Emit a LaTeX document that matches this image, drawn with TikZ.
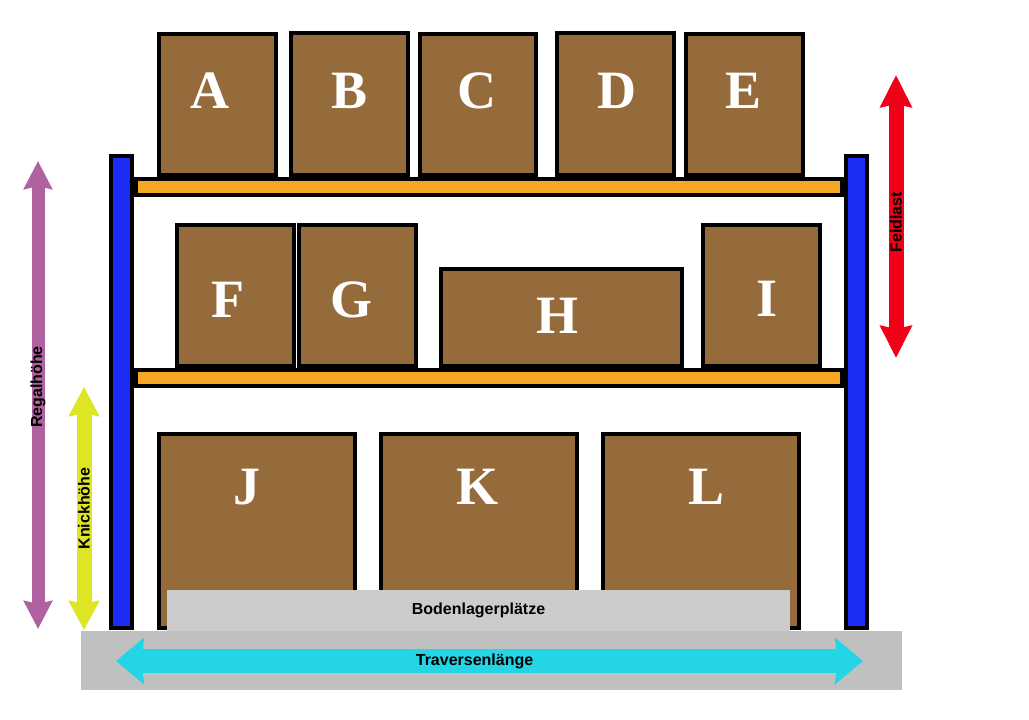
\documentclass[tikz,border=0pt]{standalone}
\usepackage{fontspec}
\setmainfont{Liberation Serif}
\setsansfont{Liberation Sans}
\definecolor{RackBlue}{HTML}{1B2DF3}
\definecolor{RackOrange}{HTML}{F5A623}
\definecolor{CrateBrown}{HTML}{966B3B}
\definecolor{FloorGray}{HTML}{C0C0C0}
\definecolor{SlotGray}{HTML}{CCCCCC}
\definecolor{LengthCyan}{HTML}{24D5E5}
\definecolor{HeightPurple}{HTML}{B062A0}
\definecolor{KnickYellow}{HTML}{DDE524}
\definecolor{LoadRed}{HTML}{F20018}
\usetikzlibrary{arrows.meta,positioning}
\tikzset{
  upright/.style={draw=black, fill=RackBlue, line width=4pt, inner sep=0pt},
  beam/.style={draw=black, fill=RackOrange, line width=4pt, inner sep=0pt},
  crate/.style={draw=black, fill=CrateBrown, line width=4pt, inner sep=0pt},
  letter/.style={text=white, anchor=base, inner sep=0pt, font=\bfseries\fontsize{54}{54}\selectfont},
  floor/.style={fill=#1, inner sep=0pt},
  dimarrow/.style n args={3}{line width=#1, arrows={Stealth[length=#2,width=#3,inset=3pt]-Stealth[length=#2,width=#3,inset=3pt]}},
  dimlabel/.style={text=black, inner sep=0pt, font=\sffamily\bfseries\fontsize{16}{16}\selectfont}
}
\begin{document}
\begin{tikzpicture}[x=1pt, y=-1pt]
    \useasboundingbox (0,0) rectangle (1029,720);
    % rack frame
    \node[upright, minimum width=21pt, minimum height=472pt] (postL) at (121.5,392) {};
    \node[upright, minimum width=21pt, minimum height=472pt] (postR) at (856.5,392) {};
    \node[beam, minimum width=706pt, minimum height=16pt] (beamTop) at (489,187) {};
    \node[beam, minimum width=706pt, minimum height=16pt] (beamMid) at (489,378) {};
    % top level
    \node[crate, minimum width=117pt, minimum height=141pt] (crateA) at (217.5,104.5) {};
    \node[crate, minimum width=117pt, minimum height=142pt] (crateB) at (349.5,104) {};
    \node[crate, minimum width=116pt, minimum height=141pt] (crateC) at (478,104.5) {};
    \node[crate, minimum width=117pt, minimum height=142pt] (crateD) at (615.5,104) {};
    \node[crate, minimum width=117pt, minimum height=141pt] (crateE) at (744.5,104.5) {};
    \node[letter] (letterA) at (210,108) {A};
    \node[letter] (letterB) at (350,108) {B};
    \node[letter] (letterC) at (477,108) {C};
    \node[letter] (letterD) at (617,108) {D};
    \node[letter] (letterE) at (744,108) {E};
    % middle level
    \node[crate, minimum width=117pt, minimum height=141pt] (crateF) at (235.5,295.5) {};
    \node[crate, minimum width=117pt, minimum height=141pt] (crateG) at (357.5,295.5) {};
    \node[crate, minimum width=241pt, minimum height=97pt] (crateH) at (561.5,317.5) {};
    \node[crate, minimum width=117pt, minimum height=141pt] (crateI) at (761.5,295.5) {};
    \node[letter] (letterF) at (228,317) {F};
    \node[letter] (letterG) at (351,317) {G};
    \node[letter] (letterH) at (557,333) {H};
    \node[letter] (letterI) at (767,316) {I};
    % floor level
    \node[crate, minimum width=196pt, minimum height=194pt] (crateJ) at (257,531) {};
    \node[crate, minimum width=196pt, minimum height=194pt] (crateK) at (479,531) {};
    \node[crate, minimum width=196pt, minimum height=194pt] (crateL) at (701,531) {};
    \node[letter] (letterJ) at (247,504) {J};
    \node[letter] (letterK) at (477,504) {K};
    \node[letter] (letterL) at (707,504) {L};
    \node[floor=FloorGray, minimum width=821pt, minimum height=59pt] (ground) at (491.5,660.5) {};
    \node[floor=SlotGray, minimum width=623pt, minimum height=41pt, dimlabel] (slots) at (478.5,610.5) {Bodenlagerplätze};
    % dimensions
    \coordinate (rackBottom) at (38,629);
    \coordinate (rackTop) at (38,161);
    \coordinate (knickBottom) at (84,630);
    \coordinate (knickTop) at (84,387);
    \coordinate (loadTop) at (896,75);
    \coordinate (loadBottom) at (896,358);
    \coordinate (beamLeft) at (116,661);
    \coordinate (beamRight) at (863,661);
    \draw[HeightPurple, dimarrow={13pt}{28pt}{28pt}] (rackBottom) -- node[dimlabel, pos=0.517, rotate=90] (rackLabel) {Regalhöhe} (rackTop);
    \draw[KnickYellow, dimarrow={15pt}{29pt}{30pt}] (knickBottom) -- node[dimlabel, midway, rotate=90] (knickLabel) {Knickhöhe} (knickTop);
    \draw[LoadRed, dimarrow={15pt}{32pt}{31pt}] (loadBottom) -- node[dimlabel, pos=0.48, rotate=90] (loadLabel) {Feldlast} (loadTop);
    \draw[LengthCyan, dimarrow={24pt}{28pt}{46pt}] (beamLeft) -- node[dimlabel, pos=0.48] (beamLabel) {Traversenlänge} (beamRight);
  \end{tikzpicture}
\end{document}
